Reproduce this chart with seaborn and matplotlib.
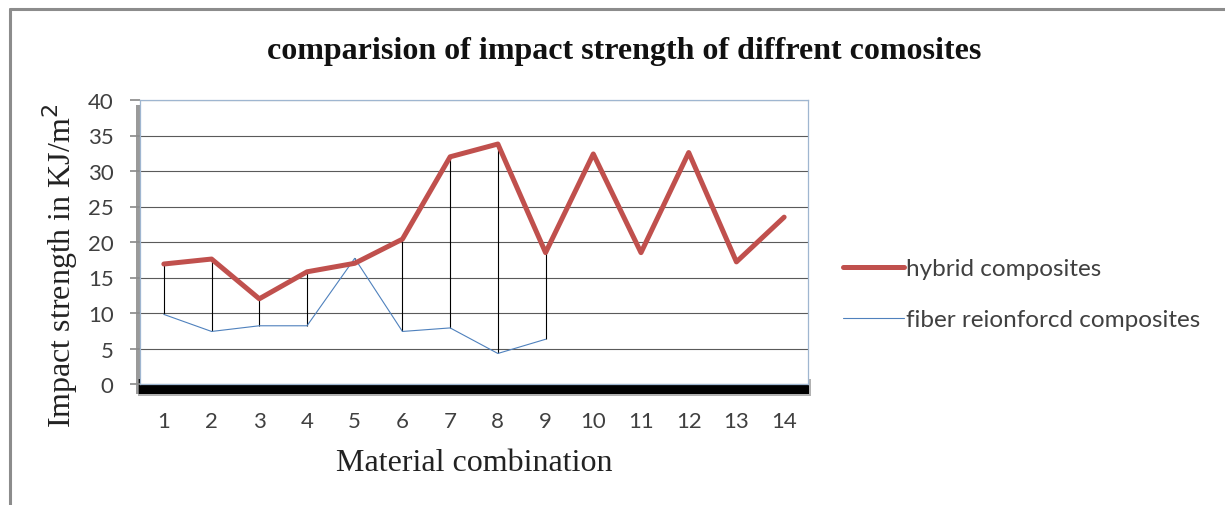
import matplotlib

matplotlib.use("Agg")

import matplotlib.pyplot as plt
import pandas as pd
import seaborn as sns
from matplotlib.lines import Line2D
from matplotlib.patches import Rectangle

# data
combinations = list(range(1, 15))
hybrid = [16.9, 17.6, 12.0, 15.8, 17.0, 20.4, 32.0, 33.8, 18.5, 32.4, 18.5, 32.6, 17.2, 23.5]
fiber = [9.8, 7.4, 8.2, 8.2, 17.7, 7.4, 7.9, 4.3, 6.3]

sns.set_theme(style="white")
plt.rcParams["font.family"] = ["Lato", "DejaVu Sans"]

W, H = 1225, 506
fig = plt.figure(figsize=(W / 100, H / 100), dpi=100)


def fx(px):
    return px / W


def fy(py):
    return 1 - py / H


# outer chart frame
fig.add_artist(Line2D([fx(10), fx(10)], [fy(10), 0], color="#8c8c8c", lw=2.2))
fig.add_artist(Line2D([fx(10), 1], [fy(10), fy(10)], color="#8c8c8c", lw=2.2))

# plot area shadow: soft grey on the left, dark band under the floor
fig.add_artist(Rectangle((fx(136), fy(395)), fx(4), fy(106) - fy(395),
                         color="#9a9a9a", lw=0, zorder=0))
for grow, alpha in [(1.5, 0.3), (0, 1.0)]:
    fig.add_artist(
        Rectangle(
            (fx(139 - grow), fy(395 + grow)),
            fx(670 + 2 * grow),
            fy(380) - fy(395 + grow),
            color="black",
            alpha=alpha,
            lw=0,
            zorder=0,
        )
    )

ax = fig.add_axes([fx(140), fy(385), fx(668), fy(101) - fy(385)])
ax.set_facecolor("white")
ax.set_zorder(1)

df_h = pd.DataFrame({"x": combinations, "y": hybrid})
df_f = pd.DataFrame({"x": combinations[: len(fiber)], "y": fiber})

# high-low lines between the two series
ax.vlines(df_f["x"], df_f["y"], df_h["y"][: len(fiber)], color="black", lw=0.8, zorder=3)

sns.lineplot(data=df_f, x="x", y="y", ax=ax, color="#4F81BD", lw=0.8,
             label="fiber reionforcd composites", zorder=4, legend=False)
sns.lineplot(data=df_h, x="x", y="y", ax=ax, color="#C0504D", lw=3.6,
             label="hybrid composites", zorder=5, legend=False)

ax.set_xlim(0.5, 14.5)
ax.set_ylim(0, 40)
ax.set_yticks(range(0, 41, 5))
ax.set_xticks(combinations)
ax.grid(axis="y", color="#5a5a5a", lw=0.8)
ax.set_axisbelow(True)
for s in ax.spines.values():
    s.set_color("#9fb6d0")
    s.set_linewidth(0.9)
ax.tick_params(axis="y", left=True, length=7, color="#8c8c8c", labelsize=16,
               labelcolor="#404040", pad=12)
ax.tick_params(axis="x", bottom=False, labelsize=16, labelcolor="#404040", pad=13.5)

ax.set_xlabel("Material combination", family="Liberation Serif", fontsize=23,
              color="#222222", labelpad=12)
ax.set_ylabel("Impact strength in KJ/m$^2$", family="Liberation Serif", fontsize=23,
              color="#222222")
ax.yaxis.set_label_coords(-0.09, 0.42)

fig.text(fx(624), fy(52), "comparision of impact strength of diffrent comosites",
         ha="center", va="center", family="Liberation Serif", weight="bold",
         fontsize=23, color="#111111")

handles = [
    Line2D([], [], color="#C0504D", lw=3.6),
    Line2D([], [], color="#4F81BD", lw=0.8),
]
fig.legend(handles, ["hybrid composites", "fiber reionforcd composites"],
           loc="upper left", bbox_to_anchor=(fx(843), fy(259)), frameon=False,
           fontsize=17.5, handlelength=2.5, handletextpad=0.1, labelspacing=1.25,
           borderpad=0, borderaxespad=0, labelcolor="#404040")

fig.savefig("out.png", dpi=100)
